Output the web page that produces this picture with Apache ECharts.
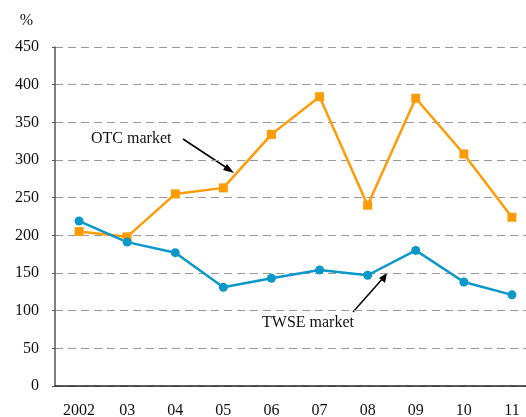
<!DOCTYPE html>
<html>
<head>
<meta charset="utf-8">
<script src="https://cdn.jsdelivr.net/npm/echarts@6/dist/echarts.min.js"></script>
<style>
  html, body { margin: 0; padding: 0; background: #fff; }
  #chart { width: 526px; height: 417px; }
</style>
</head>
<body>
<div id="chart"></div>
<script>
const years = ["2002", "03", "04", "05", "06", "07", "08", "09", "10", "11"];
const otcMarket = [205, 198, 255, 263, 334, 384, 240, 382, 308, 224];
const twseMarket = [219, 191, 177, 131, 143, 154, 147, 180, 138, 121];
const yTicks = [0, 50, 100, 150, 200, 250, 300, 350, 400, 450];

const font = "Liberation Serif";
const orange = "#ff9c05";
const blue = "#0a98c9";

const chart = echarts.init(document.getElementById("chart"));

chart.setOption({
  animation: false,
  textStyle: { fontFamily: font },
  grid: { left: 55, right: -10, top: 47, bottom: 31, outerBoundsMode: "none", containLabel: false },
  xAxis: {
    type: "category",
    data: years,
    boundaryGap: true,
    axisLine: { lineStyle: { color: "#222", width: 1.5 } },
    axisTick: { inside: true, length: 6, lineStyle: { color: "#555" } },
    axisLabel: { color: "#111", fontSize: 16, fontFamily: font, margin: 17 }
  },
  yAxis: {
    type: "value",
    min: yTicks[0],
    max: yTicks[yTicks.length - 1],
    interval: 50,
    name: "%",
    nameLocation: "end",
    nameGap: 18,
    nameTextStyle: { color: "#111", fontSize: 16, fontFamily: font, align: "right", padding: [0, 22, 0, 0] },
    axisLine: { show: true, lineStyle: { color: "#555", width: 1.5 } },
    axisTick: { show: true, length: 3, lineStyle: { color: "#555" } },
    axisLabel: { color: "#111", fontSize: 16, fontFamily: font, margin: 16 },
    splitLine: { lineStyle: { color: "#999", type: [8, 5], width: 1 } }
  },
  series: [
    {
      name: "OTC market",
      type: "line",
      data: otcMarket,
      symbol: "rect",
      symbolSize: 9,
      lineStyle: { color: orange, width: 2.5 },
      itemStyle: { color: orange }
    },
    {
      name: "TWSE market",
      type: "line",
      data: twseMarket,
      symbol: "circle",
      symbolSize: 9,
      lineStyle: { color: blue, width: 2.5 },
      itemStyle: { color: blue }
    }
  ],
  graphic: [
    {
      type: "text", left: 91, top: 131,
      style: { text: "OTC market", font: "16px Liberation Serif", fill: "#111" }
    },
    {
      type: "line",
      shape: { x1: 183, y1: 139, x2: 230, y2: 170 },
      style: { stroke: "#000", lineWidth: 1.5 }
    },
    {
      type: "polygon",
      shape: { points: [[234, 173], [223, 170], [227, 164]] },
      style: { fill: "#000" }
    },
    {
      type: "text", left: 262, top: 315,
      style: { text: "TWSE market", font: "16px Liberation Serif", fill: "#111" }
    },
    {
      type: "line",
      shape: { x1: 353, y1: 312, x2: 384, y2: 277 },
      style: { stroke: "#000", lineWidth: 1.5 }
    },
    {
      type: "polygon",
      shape: { points: [[387, 273], [379, 278], [385, 283]] },
      style: { fill: "#000" }
    }
  ]
});
</script>
</body>
</html>
